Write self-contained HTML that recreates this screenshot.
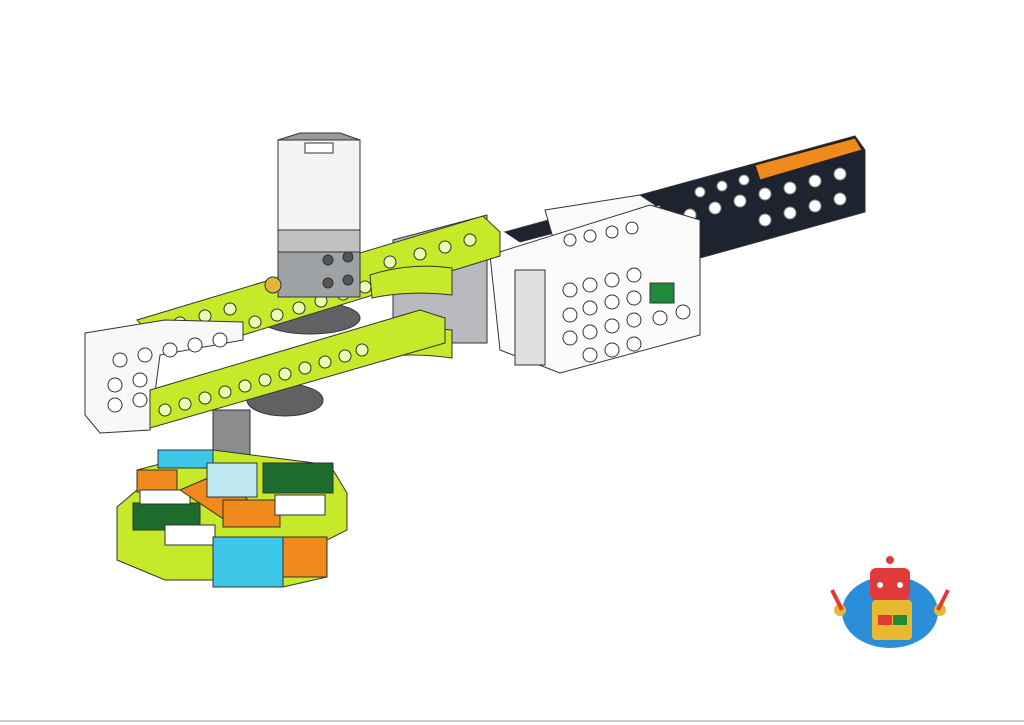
<!DOCTYPE html>
<html><head><style>html,body{margin:0;padding:0;background:#fff;width:1024px;height:725px;overflow:hidden}</style></head>
<body>
<svg width="1024" height="725" viewBox="0 0 1024 725" xmlns="http://www.w3.org/2000/svg" stroke="#333" stroke-width="1">
<line x1="0" y1="721" x2="1024" y2="721" stroke="#ccc" stroke-width="2"/>
<!-- black beam -->
<polygon points="505,232 855,136 865,150 865,212 700,258 660,250 660,205 520,242" fill="#1e2330"/>
<polygon points="755,165 855,138 862,150 760,180" fill="#f08a1c" stroke="#222"/>
<g fill="#fff" stroke="#888">
<circle cx="700" cy="192" r="5"/><circle cx="722" cy="186" r="5"/><circle cx="744" cy="180" r="5"/>
<circle cx="690" cy="215" r="6"/><circle cx="715" cy="208" r="6"/><circle cx="740" cy="201" r="6"/><circle cx="765" cy="194" r="6"/><circle cx="790" cy="188" r="6"/><circle cx="815" cy="181" r="6"/><circle cx="840" cy="174" r="6"/>
<circle cx="765" cy="220" r="6"/><circle cx="790" cy="213" r="6"/><circle cx="815" cy="206" r="6"/><circle cx="840" cy="199" r="6"/>
</g>
<!-- gray connector -->
<polygon points="393,240 487,215 487,343 450,343 393,320" fill="#b8babd"/>
<!-- hub -->
<polygon points="545,210 640,195 655,205 655,250 560,262" fill="#fafafa"/>
<polygon points="490,255 650,205 700,220 700,335 560,373 500,350" fill="#fbfbfb"/>
<rect x="515" y="270" width="30" height="95" fill="#e0e0e0"/>
<rect x="650" y="283" width="24" height="20" fill="#1f8a3a"/>
<g fill="#fff" stroke="#333">
<circle cx="570" cy="240" r="6"/><circle cx="590" cy="236" r="6"/><circle cx="612" cy="232" r="6"/><circle cx="632" cy="228" r="6"/>
<circle cx="570" cy="290" r="7"/><circle cx="590" cy="285" r="7"/><circle cx="612" cy="280" r="7"/><circle cx="634" cy="275" r="7"/>
<circle cx="570" cy="315" r="7"/><circle cx="590" cy="308" r="7"/><circle cx="612" cy="302" r="7"/><circle cx="634" cy="298" r="7"/>
<circle cx="570" cy="338" r="7"/><circle cx="590" cy="332" r="7"/><circle cx="612" cy="326" r="7"/><circle cx="634" cy="320" r="7"/>
<circle cx="590" cy="355" r="7"/><circle cx="612" cy="350" r="7"/><circle cx="634" cy="344" r="7"/><circle cx="660" cy="318" r="7"/><circle cx="683" cy="312" r="7"/>
</g>
<!-- gears -->
<ellipse cx="310" cy="318" rx="50" ry="16" fill="#5f6163"/>
<ellipse cx="285" cy="400" rx="38" ry="16" fill="#5f6163"/>
<!-- upper lime beam -->
<polygon points="137,320 483,216 500,232 500,256 243,335 160,345" fill="#c6e92a"/>
<g fill="#eaffb0" stroke="#333">
<circle cx="255" cy="322" r="6"/><circle cx="277" cy="315" r="6"/><circle cx="299" cy="308" r="6"/><circle cx="321" cy="301" r="6"/><circle cx="343" cy="294" r="6"/><circle cx="365" cy="287" r="6"/>
<circle cx="180" cy="323" r="6"/><circle cx="205" cy="316" r="6"/><circle cx="230" cy="309" r="6"/>
<circle cx="390" cy="262" r="6"/><circle cx="420" cy="254" r="6"/><circle cx="445" cy="247" r="6"/><circle cx="470" cy="240" r="6"/>
</g>
<!-- motor -->
<rect x="278" y="140" width="82" height="95" fill="#f3f3f3"/>
<polygon points="278,140 300,133 340,133 360,140" fill="#999"/>
<rect x="305" y="143" width="28" height="10" fill="#fff"/>
<rect x="278" y="230" width="82" height="25" fill="#bfc1c3"/>
<rect x="278" y="252" width="82" height="45" fill="#9fa2a5"/>
<g fill="#555"><circle cx="328" cy="260" r="5"/><circle cx="348" cy="257" r="5"/><circle cx="328" cy="283" r="5"/><circle cx="348" cy="280" r="5"/></g>
<circle cx="273" cy="285" r="8" fill="#e0b63a"/>
<!-- curved lime -->
<path d="M370,275 Q410,262 452,268 L452,295 Q410,290 372,298 Z" fill="#c6e92a"/>
<path d="M370,335 Q410,325 452,330 L452,358 Q410,352 372,358 Z" fill="#c6e92a"/>
<!-- white left block -->
<polygon points="85,333 165,320 243,322 243,340 160,355 150,430 100,433 85,415" fill="#f8f8f8"/>
<g fill="#fff"><circle cx="120" cy="360" r="7"/><circle cx="145" cy="355" r="7"/><circle cx="170" cy="350" r="7"/><circle cx="195" cy="345" r="7"/><circle cx="220" cy="340" r="7"/><circle cx="115" cy="385" r="7"/><circle cx="140" cy="380" r="7"/><circle cx="115" cy="405" r="7"/><circle cx="140" cy="400" r="7"/></g>
<!-- lower lime beam -->
<polygon points="150,390 420,310 445,318 445,343 150,428" fill="#c6e92a"/>
<g fill="#eaffb0" stroke="#333">
<circle cx="165" cy="410" r="6"/><circle cx="185" cy="404" r="6"/><circle cx="205" cy="398" r="6"/><circle cx="225" cy="392" r="6"/><circle cx="245" cy="386" r="6"/><circle cx="265" cy="380" r="6"/><circle cx="285" cy="374" r="6"/><circle cx="305" cy="368" r="6"/><circle cx="325" cy="362" r="6"/><circle cx="345" cy="356" r="6"/><circle cx="362" cy="350" r="6"/>
</g>
<!-- spring -->
<rect x="213" y="410" width="37" height="55" fill="#8a8c8e"/>
<!-- base -->
<polygon points="137,470 213,450 330,465 347,493 347,530 327,540 327,577 283,587 213,587 213,580 165,580 117,560 117,507 137,490" fill="#c6e92a"/>
<rect x="137" y="470" width="40" height="22" fill="#f08a1c"/>
<rect x="158" y="450" width="55" height="18" fill="#3cc6e8"/>
<rect x="263" y="463" width="70" height="30" fill="#1e6b2e"/>
<rect x="133" y="503" width="67" height="27" fill="#1e6b2e"/>
<rect x="140" y="490" width="50" height="14" fill="#fff"/>
<rect x="165" y="525" width="50" height="20" fill="#fff"/>
<polygon points="180,490 215,475 255,505 225,520" fill="#f08a1c"/>
<rect x="223" y="500" width="57" height="27" fill="#f08a1c"/>
<rect x="207" y="463" width="50" height="34" fill="#bfe9f0"/>
<rect x="275" y="495" width="50" height="20" fill="#fff"/>
<rect x="213" y="537" width="70" height="50" fill="#3cc6e8"/>
<rect x="283" y="537" width="44" height="40" fill="#f08a1c"/>
<!-- robot logo -->
<g stroke="none">
<ellipse cx="890" cy="612" rx="48" ry="36" fill="#2a8fd8"/>
<rect x="870" y="568" width="40" height="32" rx="6" fill="#e03a3a"/>
<circle cx="890" cy="560" r="4" fill="#e03a3a"/>
<rect x="872" y="600" width="40" height="40" rx="4" fill="#e8b830"/>
<rect x="878" y="615" width="14" height="10" fill="#e03a3a"/><rect x="893" y="615" width="14" height="10" fill="#1f8a3a"/>
<circle cx="880" cy="585" r="3" fill="#fff"/><circle cx="900" cy="585" r="3" fill="#fff"/>
<circle cx="840" cy="610" r="6" fill="#e8b830"/><circle cx="940" cy="610" r="6" fill="#e8b830"/>
<path d="M832,590 L842,610 M948,590 L938,610" stroke="#e03a3a" stroke-width="4"/>
</g>
</svg>
</body></html>
